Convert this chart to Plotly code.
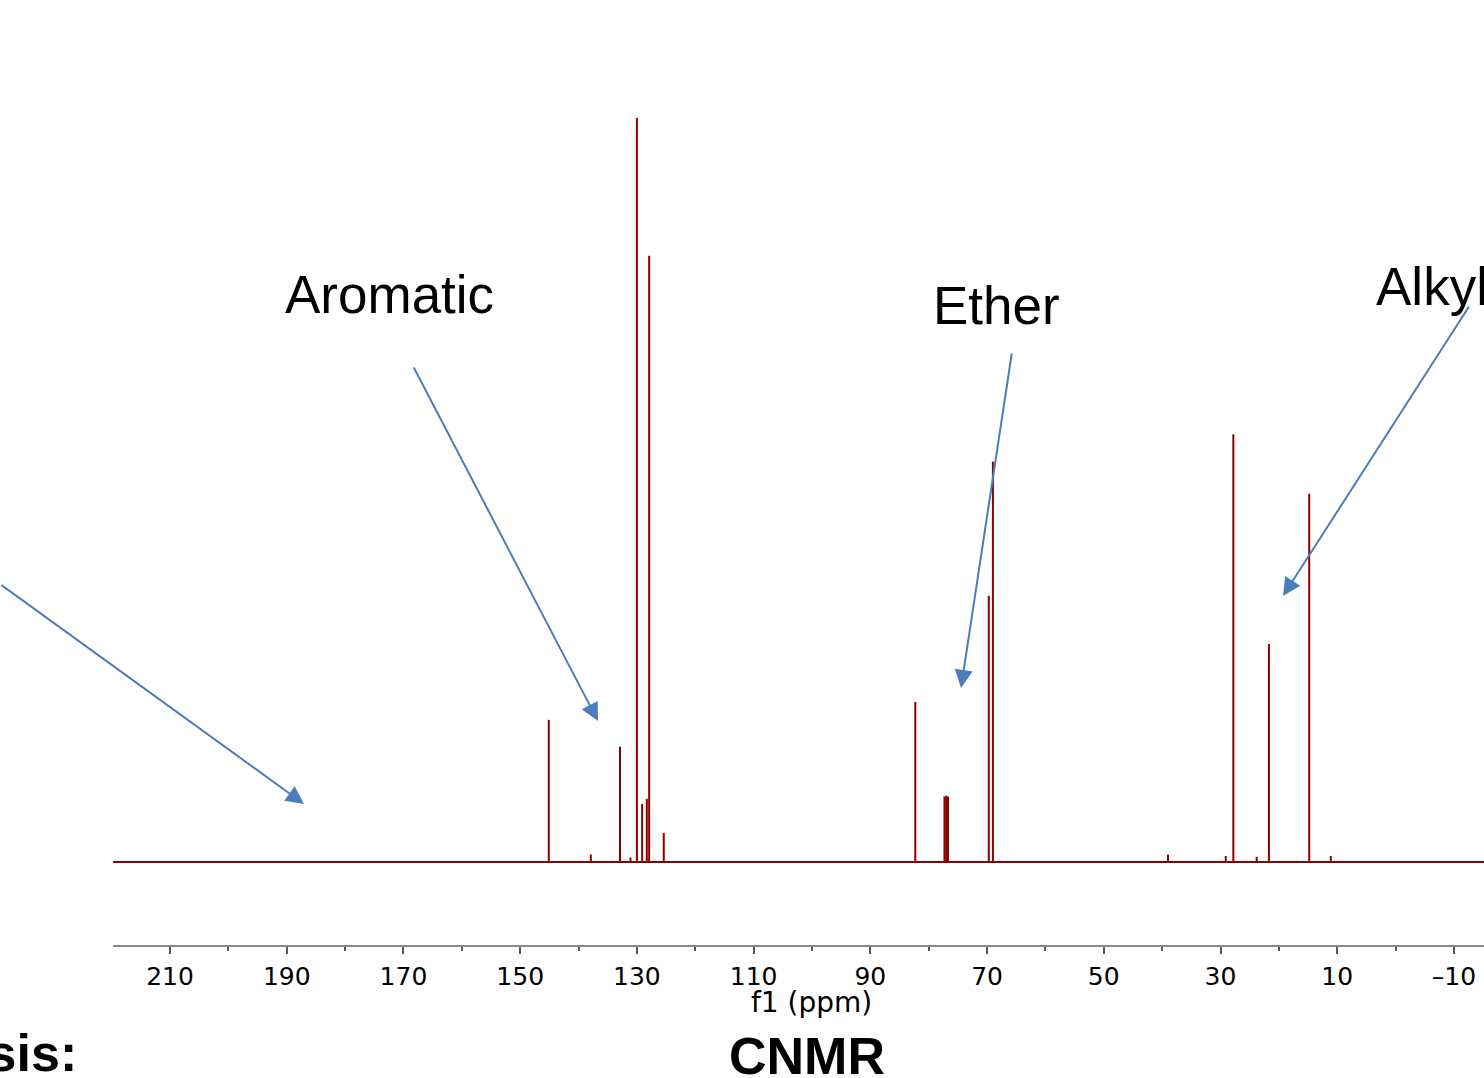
import plotly.graph_objects as go

# ---- data ----
peak_ppm = [145.1, 137.9, 132.9, 131.1, 130.0, 129.1, 128.3, 127.9, 125.4,
            82.3, 77.3, 77.0, 76.7, 69.7, 69.0,
            39.0, 29.1, 27.8, 23.8, 21.7, 14.8, 11.1]
peak_int = [0.191, 0.010, 0.155, 0.006, 1.000, 0.078, 0.085, 0.815, 0.039,
            0.215, 0.088, 0.089, 0.088, 0.358, 0.538,
            0.010, 0.008, 0.575, 0.007, 0.293, 0.495, 0.008]
baseline_ppm = [220.0, -15.2]
baseline_int = [0.0, 0.0]

major_ticks = list(range(-10, 220, 10))
major_labels = [str(v).replace("-", "\u2013") if (210 - v) % 20 == 0 else "" for v in major_ticks]
minor_ticks = [v + 5 for v in range(-15, 215, 10)]

x_range = [219.77, -15.15]
y_range = [-0.1116, 1.0242]

# ---- geometry helpers (pixel -> paper) ----
W, H = 1484, 1078
ML, MR, MT, MB = 113, 0, 100, 133
PW, PH = W - ML - MR, H - MT - MB


def px(x):
    return (x - ML) / PW


def py(y):
    return (H - MB - y) / PH


# stick spectrum built from the peak lists
sx, sy = [], []
for p, h in zip(peak_ppm, peak_int):
    sx += [p, p, None]
    sy += [0, h, None]

fig = go.Figure()
fig.add_trace(go.Scatter(x=baseline_ppm, y=baseline_int, mode="lines",
                         line=dict(color="#8b0000", width=2), hoverinfo="skip"))
fig.add_trace(go.Scatter(x=sx, y=sy, mode="lines",
                         line=dict(color="#8b0000", width=2), hoverinfo="skip"))

blue = "#4a7ebb"
label_font = dict(family="Liberation Sans, Arial, sans-serif", size=53, color="black")

annotations = [
    dict(text="Aromatic", x=px(389), y=py(294), xanchor="center", yanchor="middle"),
    dict(text="Ether", x=px(996), y=py(305), xanchor="center", yanchor="middle"),
    dict(text="Alkyl", x=px(1374), y=py(286), xanchor="left", yanchor="middle"),
]
for a in annotations:
    fig.add_annotation(xref="paper", yref="paper", showarrow=False, font=label_font, **a)

# arrows: (tail_x, tail_y, head_x, head_y) in pixels
arrows = [(-20, 584, 304, 804), (413, 366, 598, 721), (1012, 352, 961, 688), (1470, 305, 1283, 596)]
for tx, ty, hx, hy in arrows:
    fig.add_annotation(xref="paper", yref="paper", x=px(hx), y=py(hy), text="",
                       showarrow=True, ax=tx - hx, ay=ty - hy, axref="pixel", ayref="pixel",
                       arrowhead=2, arrowsize=1.8, arrowwidth=2, arrowcolor=blue, standoff=0)

fig.add_annotation(xref="paper", yref="paper", x=px(811), y=py(1002), text="f1 (ppm)",
                   showarrow=False, xanchor="center", yanchor="middle",
                   font=dict(family="DejaVu Sans", size=28, color="black"))
fig.add_annotation(xref="paper", yref="paper", x=px(807), y=py(1056), text="<b>CNMR</b>",
                   showarrow=False, xanchor="center", yanchor="middle",
                   font=dict(family="Liberation Sans, Arial, sans-serif", size=52, color="black"))
fig.add_annotation(xref="paper", yref="paper", x=px(79), y=py(1053), text="<b>Analysis:</b>",
                   showarrow=False, xanchor="right", yanchor="middle",
                   font=dict(family="Liberation Sans, Arial, sans-serif", size=52, color="black"))

fig.update_layout(
    width=W, height=H, autosize=False,
    margin=dict(l=ML, r=MR, t=MT, b=MB, pad=0),
    paper_bgcolor="white", plot_bgcolor="white",
    showlegend=False,
    xaxis=dict(range=x_range, showgrid=False, zeroline=False,
               showline=True, linecolor="#888888", linewidth=2,
               ticks="outside", ticklen=7, tickwidth=1.5, tickcolor="#555555",
               tickvals=major_ticks, ticktext=major_labels,
               tickfont=dict(family="DejaVu Sans", size=25, color="black"),
               ticklabelstandoff=1,
               minor=dict(tickvals=minor_ticks, ticks="outside", ticklen=4,
                          tickwidth=1.5, tickcolor="#555555"),
               automargin=False, fixedrange=True),
    yaxis=dict(range=y_range, visible=False, showgrid=False, zeroline=False,
               automargin=False, fixedrange=True),
)

fig.write_html("out.html", config={"displayModeBar": False},
               post_script="document.body.style.margin='0';document.body.style.overflow='hidden';")
